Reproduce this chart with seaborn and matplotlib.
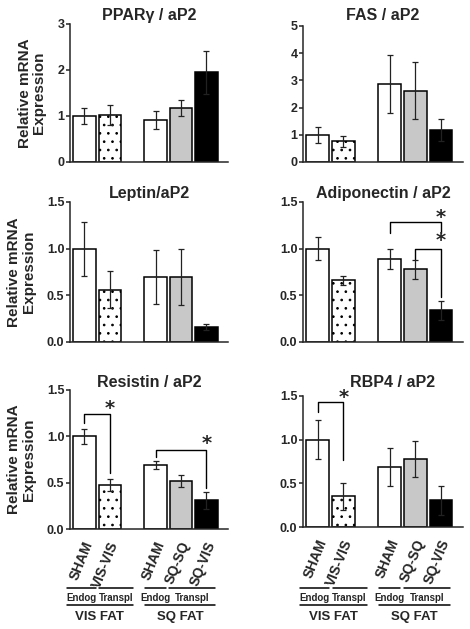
import numpy as np
import pandas as pd
import matplotlib
matplotlib.use('Agg')
import matplotlib.pyplot as plt
import matplotlib.transforms as mtransforms
import seaborn as sns

# groups / bar positions (gap between VIS FAT and SQ FAT)
groups = ['VIS SHAM', 'VIS-VIS', 'SQ SHAM', 'SQ-SQ', 'SQ-VIS']
tick_labels = ['SHAM', 'VIS-VIS', 'SHAM', 'SQ-SQ', 'SQ-VIS']
bar_pos = [0, 1, 2.8, 3.8, 4.8]
bar_colors = ['#ffffff', '#ffffff', '#ffffff', '#c8c8c8', '#000000']

# values (mean, +/- error)
pparg_mean = [1.00, 1.02, 0.91, 1.18, 1.95]
pparg_err = [0.18, 0.22, 0.20, 0.17, 0.47]
fas_mean = [1.00, 0.76, 2.87, 2.62, 1.18]
fas_err = [0.29, 0.20, 1.08, 1.05, 0.41]
leptin_mean = [1.00, 0.56, 0.70, 0.70, 0.16]
leptin_err = [0.29, 0.20, 0.29, 0.30, 0.035]
adipo_mean = [1.00, 0.66, 0.89, 0.78, 0.34]
adipo_err = [0.12, 0.05, 0.11, 0.10, 0.10]
resistin_mean = [1.00, 0.47, 0.69, 0.52, 0.31]
resistin_err = [0.08, 0.065, 0.04, 0.065, 0.09]
rbp4_mean = [1.00, 0.35, 0.69, 0.775, 0.305]
rbp4_err = [0.22, 0.155, 0.22, 0.205, 0.165]

# significance brackets: (bar i, bar j, top, left end, right end, star y)
adipo_sig = [(2, 4, 1.29, 1.17, 1.17, 1.37), (3, 4, 1.00, 0.88, 0.48, 1.12)]
resistin_sig = [(0, 1, 1.24, 1.14, 0.60, 1.34), (2, 4, 0.85, 0.78, 0.44, 0.96)]
rbp4_sig = [(0, 1, 1.43, 1.32, 0.77, 1.52)]

sns.set_style('ticks')
plt.rcParams['font.family'] = ['Liberation Sans', 'DejaVu Sans']
plt.rcParams['font.weight'] = 'bold'
plt.rcParams['axes.linewidth'] = 1.1
plt.rcParams['hatch.linewidth'] = 0.7

fig = plt.figure(figsize=(4.7, 6.29), dpi=100)
W, H = 470.0, 629.0


def make_ax(x0, y0, x1, y1):
    return fig.add_axes([x0 / W, 1 - y1 / H, (x1 - x0) / W, (y1 - y0) / H])


# title, means, errors, ymax, yticks, tick format, brackets, axes box (px), title x, title pad
panels = [
    ('PPAR\u03b3 / aP2', pparg_mean, pparg_err, 3, [0, 1, 2, 3], '%d', [], (70, 24, 228, 162), 0.5, 3),
    ('FAS / aP2', fas_mean, fas_err, 5, [0, 1, 2, 3, 4, 5], '%d', [], (303, 26, 463, 162), 0.5, 4.5),
    ('Leptin/aP2', leptin_mean, leptin_err, 1.5, [0, 0.5, 1.0, 1.5], '%.1f', [], (70, 202, 228, 342), 0.5, 3),
    ('Adiponectin / aP2', adipo_mean, adipo_err, 1.5, [0, 0.5, 1.0, 1.5], '%.1f', adipo_sig, (303, 202, 463, 342), 0.5, 3),
    ('Resistin / aP2', resistin_mean, resistin_err, 1.5, [0, 0.5, 1.0, 1.5], '%.1f', resistin_sig, (70, 390, 228, 529), 0.5, 1.5),
    ('RBP4 / aP2', rbp4_mean, rbp4_err, 1.5, [0, 0.5, 1.0, 1.5], '%.1f', rbp4_sig, (303, 396, 463, 527), 0.56, 6.5),
]

star_shift = mtransforms.ScaledTranslation(0, -3.5 / 100, fig.dpi_scale_trans)
label_shift = mtransforms.ScaledTranslation(5 / 100, 0, fig.dpi_scale_trans)

for k, (title, mean, err, ymax, yticks, fmt, sig, box, tx, tpad) in enumerate(panels):
    ax = make_ax(*box)
    df = pd.DataFrame({'pos': bar_pos, 'val': mean, 'group': groups})
    sns.barplot(data=df, x='pos', y='val', hue='group', hue_order=groups,
                palette=dict(zip(groups, bar_colors)), native_scale=True,
                width=0.88, errorbar=None, edgecolor='black', linewidth=1.1,
                saturation=1, legend=False, ax=ax)
    # dotted fill for the VIS-VIS transplant
    for bar in ax.containers[1]:
        bar.set_hatch('..')
    ax.errorbar(bar_pos, mean, yerr=err, fmt='none', ecolor='#222222',
                elinewidth=0.9, capsize=2.2, capthick=0.9, zorder=5)

    ax.set_xlim(-0.57, 5.65)
    ax.set_ylim(0, ymax)
    ax.set_yticks(yticks)
    ax.set_yticklabels([fmt % t for t in yticks])
    ax.tick_params(axis='y', labelsize=9, width=1.1, length=3, pad=1)
    ax.set_title(title, fontsize=11.5, fontweight='bold', pad=tpad, x=tx)
    ax.set_xlabel('')
    ax.set_ylabel('')
    sns.despine(ax=ax)

    if k % 2 == 0:
        ax.set_ylabel('Relative mRNA\nExpression', fontsize=11, fontweight='bold',
                      labelpad=8, linespacing=1.05)

    if k >= 4:
        ax.set_xticks(bar_pos)
        ax.set_xticklabels(tick_labels, rotation=68, ha='right',
                           rotation_mode='anchor', va='center', fontsize=10)
        ax.tick_params(axis='x', length=0, pad=9.5)
        for lab in ax.get_xticklabels():
            lab.set_transform(lab.get_transform() + label_shift)
        # group annotations below the axis
        tr = mtransforms.blended_transform_factory(ax.transData, fig.transFigure)
        row1 = [(-0.7, 0.45), (0.58, 1.9), (2.4, 3.22), (3.34, 5.15)]
        row1_txt = ['Endog', 'Transpl', 'Endog', 'Transpl']
        row2 = [(-0.7, 1.9), (2.4, 5.15)]
        row2_txt = ['VIS FAT', 'SQ FAT']
        for (a, b), t in zip(row1, row1_txt):
            ax.plot([a, b], [1 - 588 / H] * 2, color='black', lw=1.1,
                    transform=tr, clip_on=False)
            ax.text((a + b) / 2, 1 - 598 / H, t, transform=tr, ha='center',
                    va='center', fontsize=7)
        for (a, b), t in zip(row2, row2_txt):
            ax.plot([a, b], [1 - 605 / H] * 2, color='black', lw=1.1,
                    transform=tr, clip_on=False)
            ax.text((a + b) / 2, 1 - 617 / H, t, transform=tr, ha='center',
                    va='center', fontsize=9.5)
    else:
        ax.set_xticks([])

    for i, j, top, yl, yr, ys in sig:
        xi, xj = bar_pos[i], bar_pos[j]
        ax.plot([xi, xi, xj, xj], [yl, top, top, yr], color='black', lw=1.0,
                clip_on=False)
        ax.text(xj, ys, '*', ha='center', va='center', fontsize=14,
                family='DejaVu Sans', clip_on=False,
                transform=ax.transData + star_shift)

fig.savefig('out.png', dpi=100)
